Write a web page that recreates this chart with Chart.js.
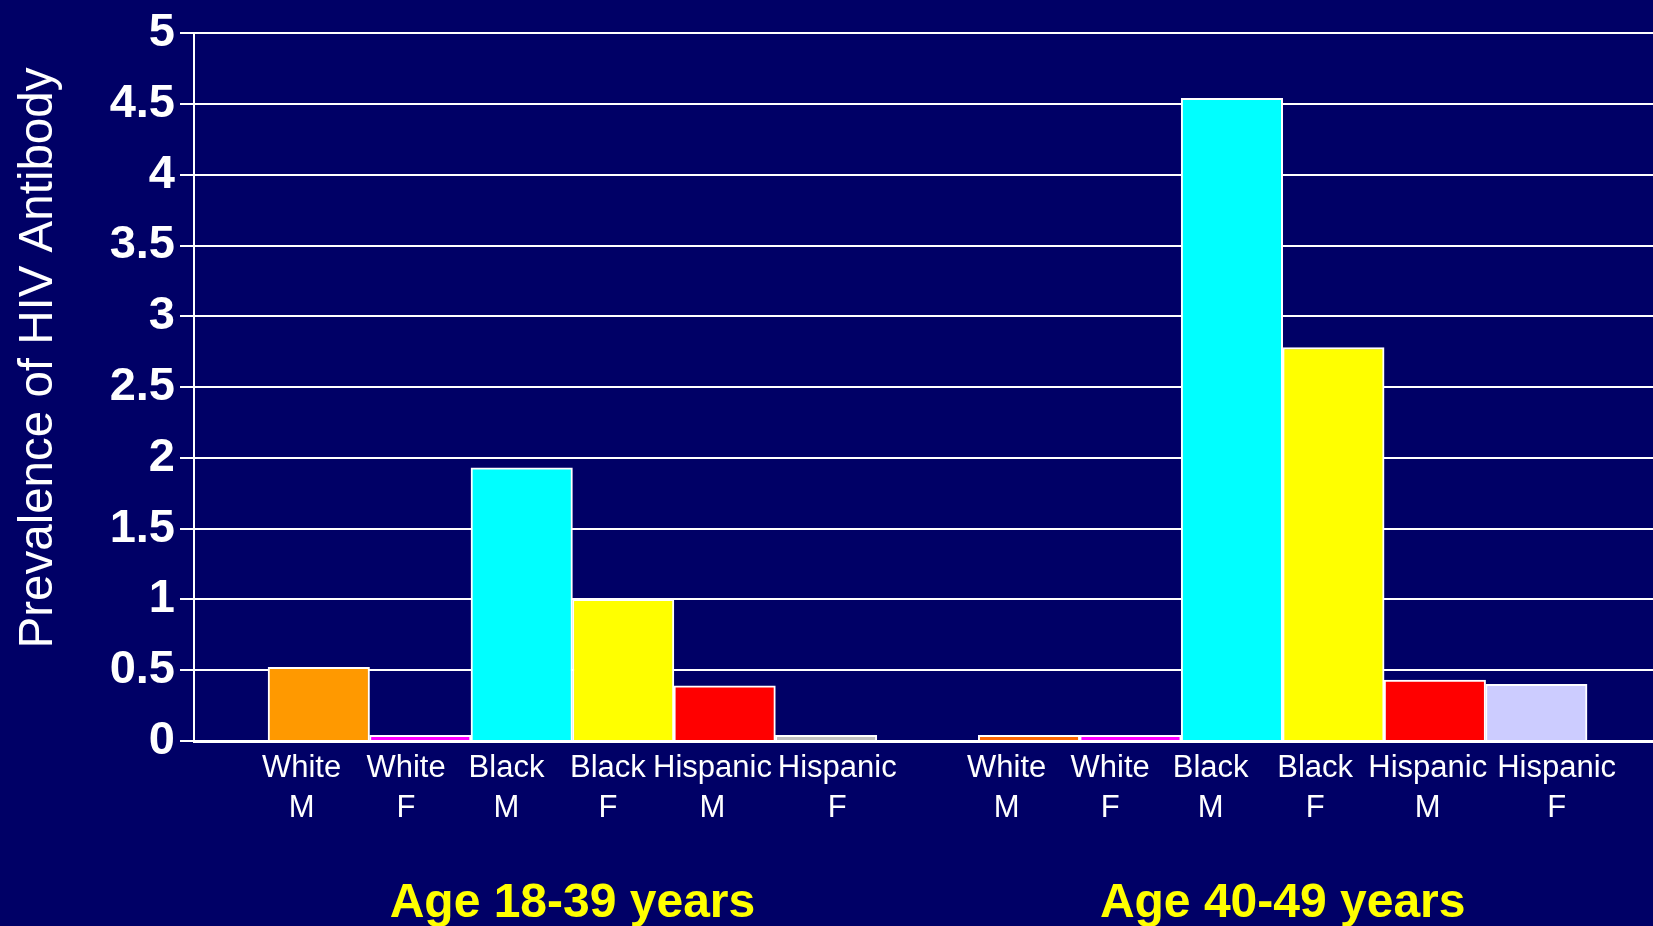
<!DOCTYPE html>
<html>
<head>
<meta charset="utf-8">
<script src="https://cdn.jsdelivr.net/npm/chart.js@4/dist/chart.umd.min.js"></script>
<style>
    html, body { margin: 0; padding: 0; background: #000066; overflow: hidden; }
    #wrap { width: 1653px; height: 926px; }
</style>
</head>
<body>
<div id="wrap"><canvas id="hivChart" width="1653" height="926"></canvas></div>
<script>
// bars left to right; the blank slot in the middle separates the two age groups
const categories = [
    ['White', 'M'], ['White', 'F'], ['Black', 'M'], ['Black', 'F'], ['Hispanic', 'M'], ['Hispanic', 'F'],
    ['', ''],
    ['White', 'M'], ['White', 'F'], ['Black', 'M'], ['Black', 'F'], ['Hispanic', 'M'], ['Hispanic', 'F']
];
const prevalence = [0.52, 0.04, 1.93, 1.0, 0.39, 0.04, 0, 0.04, 0.04, 4.54, 2.78, 0.43, 0.40];
const barColors = [
    '#FF9900', '#FF00FF', '#00FFFF', '#FFFF00', '#FF0000', '#C0C0C0',
    '#000066',
    '#FF6600', '#FF00FF', '#00FFFF', '#FFFF00', '#FF0000', '#CCCCFF'
];
const groupTitles = ['Age 18-39 years', 'Age 40-49 years'];
const groupRanges = [[1, 6], [8, 13]];   // first and last bar position of each group
const yTicks = [0, 0.5, 1, 1.5, 2, 2.5, 3, 3.5, 4, 4.5, 5];
const yTitle = 'Prevalence of HIV Antibody';

// the original labels don't sit exactly under their bars (in bar widths)
const labelNudge = [-0.17, -0.14, -0.15, -0.15, -0.12, 0.11, 0, -0.22, -0.2, -0.21, -0.18, -0.07, 0.2];

const X_MIN = -0.23;
const X_MAX = 14.15;
const FONT = '"Liberation Sans", Arial, sans-serif';

const points = prevalence.map((v, i) => ({ x: i + 1, y: v }));

// age group captions under the category labels
const groupTitlePlugin = {
    id: 'groupTitles',
    afterDraw(chart) {
        const { ctx, scales: { x } } = chart;
        ctx.save();
        ctx.fillStyle = '#FFFF00';
        ctx.font = 'bold 48px ' + FONT;
        ctx.textAlign = 'center';
        ctx.textBaseline = 'alphabetic';
        groupTitles.forEach((t, i) => {
            const mid = (groupRanges[i][0] + groupRanges[i][1]) / 2;
            ctx.fillText(t, x.getPixelForValue(mid), 917);
        });
        ctx.restore();
    }
};

// y title sits a bit above the middle of the axis in the original
const yTitlePlugin = {
    id: 'yTitle',
    afterDraw(chart) {
        const ctx = chart.ctx;
        ctx.save();
        ctx.translate(52, 358);
        ctx.rotate(-Math.PI / 2);
        ctx.fillStyle = '#FFFFFF';
        ctx.font = '47.5px ' + FONT;
        ctx.textAlign = 'center';
        ctx.textBaseline = 'alphabetic';
        ctx.fillText(yTitle, 0, 0);
        ctx.restore();
    }
};

const ctx = document.getElementById('hivChart').getContext('2d');
new Chart(ctx, {
    type: 'bar',
    data: {
        datasets: [{
            data: points,
            backgroundColor: barColors,
            borderColor: '#FFFFFF',
            borderWidth: 2,
            borderSkipped: 'bottom',
            barPercentage: 1,
            categoryPercentage: 1
        }]
    },
    options: {
        responsive: false,
        animation: false,
        layout: { padding: { top: 33, right: 0, left: 0, bottom: 0 } },
        plugins: { legend: { display: false }, tooltip: { enabled: false } },
        scales: {
            x: {
                type: 'linear',
                offset: false,
                min: X_MIN,
                max: X_MAX,
                weight: 1,
                afterBuildTicks: axis => { axis.ticks = categories.map((c, i) => ({ value: i + 1 })); },
                afterFit: scale => { scale.height = 0; },
                grid: { display: false, drawTicks: false, offset: false },
                border: { color: '#FFFFFF', width: 3 },
                ticks: { display: false }
            },
            xLabels: {
                type: 'linear',
                position: 'bottom',
                offset: false,
                min: X_MIN,
                max: X_MAX,
                weight: 2,
                afterBuildTicks: axis => {
                    axis.ticks = categories.map((c, i) => ({ value: i + 1 + labelNudge[i] }));
                },
                afterFit: scale => { scale.height = 185; },
                grid: { display: false, drawTicks: false, offset: false },
                border: { display: false },
                ticks: {
                    autoSkip: false,
                    maxRotation: 0,
                    padding: 8,
                    color: '#FFFFFF',
                    font: { family: FONT, size: 31, lineHeight: 1.27 },
                    callback: (value, index) => categories[index]
                }
            },
            y: {
                min: 0,
                max: 5,
                afterBuildTicks: axis => { axis.ticks = yTicks.map(v => ({ value: v })); },
                afterFit: scale => { scale.width = 194; },
                grid: { color: '#FFFFFF', lineWidth: 2, tickLength: 14 },
                border: { color: '#FFFFFF', width: 2 },
                ticks: {
                    padding: 5,
                    color: '#FFFFFF',
                    font: { family: FONT, size: 47, weight: 'bold' },
                    callback: v => String(v)
                }
            }
        }
    },
    plugins: [groupTitlePlugin, yTitlePlugin]
});
</script>
</body>
</html>
